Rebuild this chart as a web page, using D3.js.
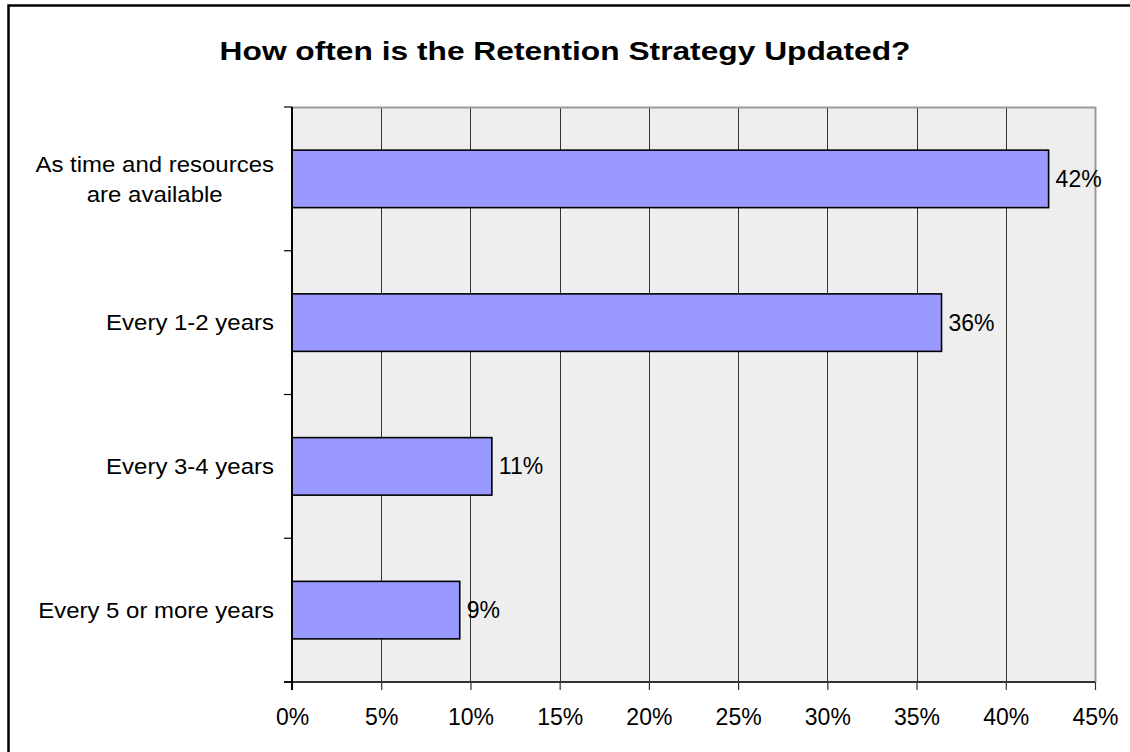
<!DOCTYPE html>
<html>
<head>
<meta charset="utf-8">
<script src="https://cdn.jsdelivr.net/npm/d3@7"></script>
<style>
  html, body { margin: 0; padding: 0; background: #fff; }
  svg { display: block; }
  text { font-family: "Liberation Sans", Arial, sans-serif; fill: #000; }
</style>
</head>
<body>
<svg id="chart" width="1130" height="752"></svg>
<script>
// Survey answers, top to bottom
const categories = [
  "As time and resources\nare available",
  "Every 1-2 years",
  "Every 3-4 years",
  "Every 5 or more years"
];
// Share of respondents, in percent
const shares = [42.4, 36.4, 11.2, 9.4];
// Axis tick values, in percent
const xTicks = [0, 5, 10, 15, 20, 25, 30, 35, 40, 45];
const title = "How often is the Retention Strategy Updated?";

const svg = d3.select("#chart");
const W = 1130, H = 752;
const plot = { left: 292, right: 1095, top: 107, bottom: 682 };

// Outer chart frame (runs off the right and bottom edges)
svg.append("rect")
  .attr("x", 8.5).attr("y", 5.5)
  .attr("width", W + 20).attr("height", H + 20)
  .attr("fill", "#fff").attr("stroke", "#000").attr("stroke-width", 2.5);

const x = d3.scaleLinear().domain([0, 45]).range([plot.left, plot.right]);
const y = d3.scaleBand().domain(categories)
  .range([plot.top, plot.bottom])
  .paddingInner(0.6).paddingOuter(0.3);

// Plot background
svg.append("rect")
  .attr("x", plot.left).attr("y", plot.top)
  .attr("width", plot.right - plot.left).attr("height", plot.bottom - plot.top)
  .attr("fill", "#eeeeee");

// Vertical gridlines
svg.append("g").selectAll("line")
  .data(xTicks.filter(t => t > 0 && t < 45))
  .join("line")
  .attr("x1", d => Math.round(x(d)) + 0.5).attr("x2", d => Math.round(x(d)) + 0.5)
  .attr("y1", plot.top).attr("y2", plot.bottom)
  .attr("stroke", "#333").attr("stroke-width", 1);

// Plot border: top and right in grey
svg.append("path")
  .attr("d", `M${plot.left},${plot.top + 0.5}H${plot.right + 0.5}V${plot.bottom}`)
  .attr("fill", "none").attr("stroke", "#9a9a9a").attr("stroke-width", 2);

// Bars
svg.append("g").selectAll("rect")
  .data(categories)
  .join("rect")
  .attr("x", x(0))
  .attr("y", d => y(d))
  .attr("width", (d, i) => x(shares[i]) - x(0))
  .attr("height", y.bandwidth())
  .attr("fill", "#9999ff")
  .attr("stroke", "#000").attr("stroke-width", 1.6);

// Value labels
svg.append("g").selectAll("text")
  .data(categories)
  .join("text")
  .attr("x", (d, i) => x(shares[i]) + 7)
  .attr("y", d => y(d) + y.bandwidth() / 2)
  .attr("dy", "0.35em")
  .style("font-size", "23px")
  .text((d, i) => Math.round(shares[i]) + "%");

// X axis
const xAxis = svg.append("g")
  .attr("transform", `translate(0,${plot.bottom})`)
  .call(d3.axisBottom(x).tickValues(xTicks).tickFormat(d => d + "%").tickSize(8).tickPadding(19));
xAxis.select(".domain").attr("stroke", "#333").attr("stroke-width", 2)
  .attr("d", `M${plot.left - 8},0H${plot.right}`);
xAxis.selectAll(".tick line").attr("stroke", "#333").attr("stroke-width", 1.2);
xAxis.selectAll(".tick text")
  .style("font-size", "23px")
  .style("font-family", "'Liberation Sans', Arial, sans-serif")
  .attr("fill", "#000");

// Y axis: line with outward ticks on category boundaries
const bounds = d3.range(categories.length + 1).map(i =>
  plot.top + i * y.step());
svg.append("line")
  .attr("x1", plot.left).attr("x2", plot.left)
  .attr("y1", plot.top).attr("y2", plot.bottom + 8)
  .attr("stroke", "#000").attr("stroke-width", 2);
svg.append("g").selectAll("line")
  .data(bounds)
  .join("line")
  .attr("x1", plot.left - 8).attr("x2", plot.left)
  .attr("y1", d => d).attr("y2", d => d)
  .attr("stroke", "#000").attr("stroke-width", 1.2);

// Category labels, multi-line ones centred on each other and right-aligned as a block
const labelRight = 274, labelScale = 1.09, lineGap = 30;
const catG = svg.append("g");
categories.forEach(c => {
  const lines = c.split("\n");
  const cy = y(c) + y.bandwidth() / 2;
  const g = catG.append("g");
  const texts = lines.map((ln, i) => g.append("text")
    .style("font-size", "22px")
    .attr("text-anchor", "middle")
    .attr("dy", "0.35em")
    .text(ln));
  const maxW = d3.max(texts, t => t.node().getComputedTextLength()) * labelScale;
  const cx = labelRight - maxW / 2;
  texts.forEach((t, i) => {
    const ly = cy + (i - (lines.length - 1) / 2) * lineGap;
    t.attr("transform", `translate(${cx},${ly}) scale(${labelScale},1)`);
  });
});

// Title
svg.append("text")
  .attr("transform", `translate(${W / 2},60) scale(1.22,1)`)
  .attr("text-anchor", "middle")
  .style("font-size", "26px")
  .style("font-weight", "bold")
  .text(title);
</script>
</body>
</html>
